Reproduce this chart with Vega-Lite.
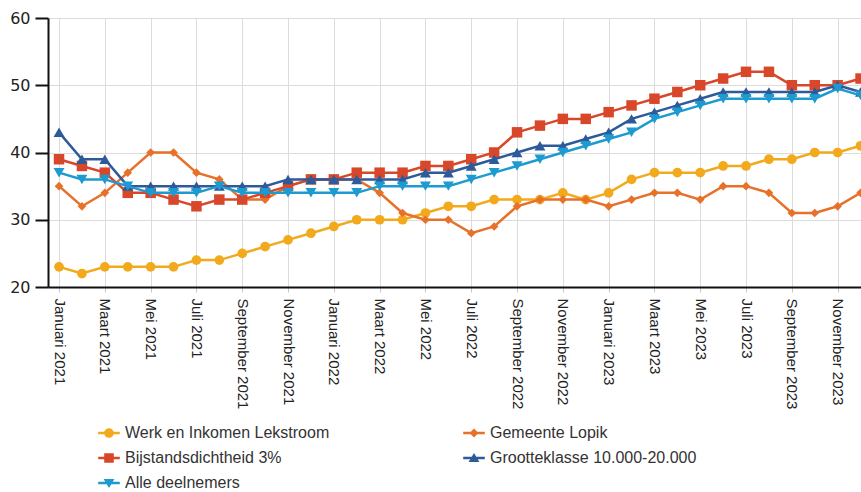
{
  "$schema": "https://vega.github.io/schema/vega-lite/v6.json",
  "autosize": {"type": "none"},
  "width": 813,
  "height": 269,
  "padding": {"left": 48, "top": 18, "right": 0, "bottom": 205},
  "background": "white",
  "config": {"view": {"stroke": null}, "font": "Liberation Sans"},
  "data": {"values": [
    {"reeks": "Werk en Inkomen Lekstroom", "maand": "Januari 2021", "waarde": 23},
    {"reeks": "Werk en Inkomen Lekstroom", "maand": "Februari 2021", "waarde": 22},
    {"reeks": "Werk en Inkomen Lekstroom", "maand": "Maart 2021", "waarde": 23},
    {"reeks": "Werk en Inkomen Lekstroom", "maand": "April 2021", "waarde": 23},
    {"reeks": "Werk en Inkomen Lekstroom", "maand": "Mei 2021", "waarde": 23},
    {"reeks": "Werk en Inkomen Lekstroom", "maand": "Juni 2021", "waarde": 23},
    {"reeks": "Werk en Inkomen Lekstroom", "maand": "Juli 2021", "waarde": 24},
    {"reeks": "Werk en Inkomen Lekstroom", "maand": "Augustus 2021", "waarde": 24},
    {"reeks": "Werk en Inkomen Lekstroom", "maand": "September 2021", "waarde": 25},
    {"reeks": "Werk en Inkomen Lekstroom", "maand": "Oktober 2021", "waarde": 26},
    {"reeks": "Werk en Inkomen Lekstroom", "maand": "November 2021", "waarde": 27},
    {"reeks": "Werk en Inkomen Lekstroom", "maand": "December 2021", "waarde": 28},
    {"reeks": "Werk en Inkomen Lekstroom", "maand": "Januari 2022", "waarde": 29},
    {"reeks": "Werk en Inkomen Lekstroom", "maand": "Februari 2022", "waarde": 30},
    {"reeks": "Werk en Inkomen Lekstroom", "maand": "Maart 2022", "waarde": 30},
    {"reeks": "Werk en Inkomen Lekstroom", "maand": "April 2022", "waarde": 30},
    {"reeks": "Werk en Inkomen Lekstroom", "maand": "Mei 2022", "waarde": 31},
    {"reeks": "Werk en Inkomen Lekstroom", "maand": "Juni 2022", "waarde": 32},
    {"reeks": "Werk en Inkomen Lekstroom", "maand": "Juli 2022", "waarde": 32},
    {"reeks": "Werk en Inkomen Lekstroom", "maand": "Augustus 2022", "waarde": 33},
    {"reeks": "Werk en Inkomen Lekstroom", "maand": "September 2022", "waarde": 33},
    {"reeks": "Werk en Inkomen Lekstroom", "maand": "Oktober 2022", "waarde": 33},
    {"reeks": "Werk en Inkomen Lekstroom", "maand": "November 2022", "waarde": 34},
    {"reeks": "Werk en Inkomen Lekstroom", "maand": "December 2022", "waarde": 33},
    {"reeks": "Werk en Inkomen Lekstroom", "maand": "Januari 2023", "waarde": 34},
    {"reeks": "Werk en Inkomen Lekstroom", "maand": "Februari 2023", "waarde": 36},
    {"reeks": "Werk en Inkomen Lekstroom", "maand": "Maart 2023", "waarde": 37},
    {"reeks": "Werk en Inkomen Lekstroom", "maand": "April 2023", "waarde": 37},
    {"reeks": "Werk en Inkomen Lekstroom", "maand": "Mei 2023", "waarde": 37},
    {"reeks": "Werk en Inkomen Lekstroom", "maand": "Juni 2023", "waarde": 38},
    {"reeks": "Werk en Inkomen Lekstroom", "maand": "Juli 2023", "waarde": 38},
    {"reeks": "Werk en Inkomen Lekstroom", "maand": "Augustus 2023", "waarde": 39},
    {"reeks": "Werk en Inkomen Lekstroom", "maand": "September 2023", "waarde": 39},
    {"reeks": "Werk en Inkomen Lekstroom", "maand": "Oktober 2023", "waarde": 40},
    {"reeks": "Werk en Inkomen Lekstroom", "maand": "November 2023", "waarde": 40},
    {"reeks": "Werk en Inkomen Lekstroom", "maand": "December 2023", "waarde": 41},

    {"reeks": "Gemeente Lopik", "maand": "Januari 2021", "waarde": 35},
    {"reeks": "Gemeente Lopik", "maand": "Februari 2021", "waarde": 32},
    {"reeks": "Gemeente Lopik", "maand": "Maart 2021", "waarde": 34},
    {"reeks": "Gemeente Lopik", "maand": "April 2021", "waarde": 37},
    {"reeks": "Gemeente Lopik", "maand": "Mei 2021", "waarde": 40},
    {"reeks": "Gemeente Lopik", "maand": "Juni 2021", "waarde": 40},
    {"reeks": "Gemeente Lopik", "maand": "Juli 2021", "waarde": 37},
    {"reeks": "Gemeente Lopik", "maand": "Augustus 2021", "waarde": 36},
    {"reeks": "Gemeente Lopik", "maand": "September 2021", "waarde": 33},
    {"reeks": "Gemeente Lopik", "maand": "Oktober 2021", "waarde": 33},
    {"reeks": "Gemeente Lopik", "maand": "November 2021", "waarde": 35},
    {"reeks": "Gemeente Lopik", "maand": "December 2021", "waarde": 36},
    {"reeks": "Gemeente Lopik", "maand": "Januari 2022", "waarde": 36},
    {"reeks": "Gemeente Lopik", "maand": "Februari 2022", "waarde": 36},
    {"reeks": "Gemeente Lopik", "maand": "Maart 2022", "waarde": 34},
    {"reeks": "Gemeente Lopik", "maand": "April 2022", "waarde": 31},
    {"reeks": "Gemeente Lopik", "maand": "Mei 2022", "waarde": 30},
    {"reeks": "Gemeente Lopik", "maand": "Juni 2022", "waarde": 30},
    {"reeks": "Gemeente Lopik", "maand": "Juli 2022", "waarde": 28},
    {"reeks": "Gemeente Lopik", "maand": "Augustus 2022", "waarde": 29},
    {"reeks": "Gemeente Lopik", "maand": "September 2022", "waarde": 32},
    {"reeks": "Gemeente Lopik", "maand": "Oktober 2022", "waarde": 33},
    {"reeks": "Gemeente Lopik", "maand": "November 2022", "waarde": 33},
    {"reeks": "Gemeente Lopik", "maand": "December 2022", "waarde": 33},
    {"reeks": "Gemeente Lopik", "maand": "Januari 2023", "waarde": 32},
    {"reeks": "Gemeente Lopik", "maand": "Februari 2023", "waarde": 33},
    {"reeks": "Gemeente Lopik", "maand": "Maart 2023", "waarde": 34},
    {"reeks": "Gemeente Lopik", "maand": "April 2023", "waarde": 34},
    {"reeks": "Gemeente Lopik", "maand": "Mei 2023", "waarde": 33},
    {"reeks": "Gemeente Lopik", "maand": "Juni 2023", "waarde": 35},
    {"reeks": "Gemeente Lopik", "maand": "Juli 2023", "waarde": 35},
    {"reeks": "Gemeente Lopik", "maand": "Augustus 2023", "waarde": 34},
    {"reeks": "Gemeente Lopik", "maand": "September 2023", "waarde": 31},
    {"reeks": "Gemeente Lopik", "maand": "Oktober 2023", "waarde": 31},
    {"reeks": "Gemeente Lopik", "maand": "November 2023", "waarde": 32},
    {"reeks": "Gemeente Lopik", "maand": "December 2023", "waarde": 34},

    {"reeks": "Bijstandsdichtheid 3%", "maand": "Januari 2021", "waarde": 39},
    {"reeks": "Bijstandsdichtheid 3%", "maand": "Februari 2021", "waarde": 38},
    {"reeks": "Bijstandsdichtheid 3%", "maand": "Maart 2021", "waarde": 37},
    {"reeks": "Bijstandsdichtheid 3%", "maand": "April 2021", "waarde": 34},
    {"reeks": "Bijstandsdichtheid 3%", "maand": "Mei 2021", "waarde": 34},
    {"reeks": "Bijstandsdichtheid 3%", "maand": "Juni 2021", "waarde": 33},
    {"reeks": "Bijstandsdichtheid 3%", "maand": "Juli 2021", "waarde": 32},
    {"reeks": "Bijstandsdichtheid 3%", "maand": "Augustus 2021", "waarde": 33},
    {"reeks": "Bijstandsdichtheid 3%", "maand": "September 2021", "waarde": 33},
    {"reeks": "Bijstandsdichtheid 3%", "maand": "Oktober 2021", "waarde": 34},
    {"reeks": "Bijstandsdichtheid 3%", "maand": "November 2021", "waarde": 35},
    {"reeks": "Bijstandsdichtheid 3%", "maand": "December 2021", "waarde": 36},
    {"reeks": "Bijstandsdichtheid 3%", "maand": "Januari 2022", "waarde": 36},
    {"reeks": "Bijstandsdichtheid 3%", "maand": "Februari 2022", "waarde": 37},
    {"reeks": "Bijstandsdichtheid 3%", "maand": "Maart 2022", "waarde": 37},
    {"reeks": "Bijstandsdichtheid 3%", "maand": "April 2022", "waarde": 37},
    {"reeks": "Bijstandsdichtheid 3%", "maand": "Mei 2022", "waarde": 38},
    {"reeks": "Bijstandsdichtheid 3%", "maand": "Juni 2022", "waarde": 38},
    {"reeks": "Bijstandsdichtheid 3%", "maand": "Juli 2022", "waarde": 39},
    {"reeks": "Bijstandsdichtheid 3%", "maand": "Augustus 2022", "waarde": 40},
    {"reeks": "Bijstandsdichtheid 3%", "maand": "September 2022", "waarde": 43},
    {"reeks": "Bijstandsdichtheid 3%", "maand": "Oktober 2022", "waarde": 44},
    {"reeks": "Bijstandsdichtheid 3%", "maand": "November 2022", "waarde": 45},
    {"reeks": "Bijstandsdichtheid 3%", "maand": "December 2022", "waarde": 45},
    {"reeks": "Bijstandsdichtheid 3%", "maand": "Januari 2023", "waarde": 46},
    {"reeks": "Bijstandsdichtheid 3%", "maand": "Februari 2023", "waarde": 47},
    {"reeks": "Bijstandsdichtheid 3%", "maand": "Maart 2023", "waarde": 48},
    {"reeks": "Bijstandsdichtheid 3%", "maand": "April 2023", "waarde": 49},
    {"reeks": "Bijstandsdichtheid 3%", "maand": "Mei 2023", "waarde": 50},
    {"reeks": "Bijstandsdichtheid 3%", "maand": "Juni 2023", "waarde": 51},
    {"reeks": "Bijstandsdichtheid 3%", "maand": "Juli 2023", "waarde": 52},
    {"reeks": "Bijstandsdichtheid 3%", "maand": "Augustus 2023", "waarde": 52},
    {"reeks": "Bijstandsdichtheid 3%", "maand": "September 2023", "waarde": 50},
    {"reeks": "Bijstandsdichtheid 3%", "maand": "Oktober 2023", "waarde": 50},
    {"reeks": "Bijstandsdichtheid 3%", "maand": "November 2023", "waarde": 50},
    {"reeks": "Bijstandsdichtheid 3%", "maand": "December 2023", "waarde": 51},

    {"reeks": "Grootteklasse 10.000-20.000", "maand": "Januari 2021", "waarde": 43},
    {"reeks": "Grootteklasse 10.000-20.000", "maand": "Februari 2021", "waarde": 39},
    {"reeks": "Grootteklasse 10.000-20.000", "maand": "Maart 2021", "waarde": 39},
    {"reeks": "Grootteklasse 10.000-20.000", "maand": "April 2021", "waarde": 35},
    {"reeks": "Grootteklasse 10.000-20.000", "maand": "Mei 2021", "waarde": 35},
    {"reeks": "Grootteklasse 10.000-20.000", "maand": "Juni 2021", "waarde": 35},
    {"reeks": "Grootteklasse 10.000-20.000", "maand": "Juli 2021", "waarde": 35},
    {"reeks": "Grootteklasse 10.000-20.000", "maand": "Augustus 2021", "waarde": 35},
    {"reeks": "Grootteklasse 10.000-20.000", "maand": "September 2021", "waarde": 35},
    {"reeks": "Grootteklasse 10.000-20.000", "maand": "Oktober 2021", "waarde": 35},
    {"reeks": "Grootteklasse 10.000-20.000", "maand": "November 2021", "waarde": 36},
    {"reeks": "Grootteklasse 10.000-20.000", "maand": "December 2021", "waarde": 36},
    {"reeks": "Grootteklasse 10.000-20.000", "maand": "Januari 2022", "waarde": 36},
    {"reeks": "Grootteklasse 10.000-20.000", "maand": "Februari 2022", "waarde": 36},
    {"reeks": "Grootteklasse 10.000-20.000", "maand": "Maart 2022", "waarde": 36},
    {"reeks": "Grootteklasse 10.000-20.000", "maand": "April 2022", "waarde": 36},
    {"reeks": "Grootteklasse 10.000-20.000", "maand": "Mei 2022", "waarde": 37},
    {"reeks": "Grootteklasse 10.000-20.000", "maand": "Juni 2022", "waarde": 37},
    {"reeks": "Grootteklasse 10.000-20.000", "maand": "Juli 2022", "waarde": 38},
    {"reeks": "Grootteklasse 10.000-20.000", "maand": "Augustus 2022", "waarde": 39},
    {"reeks": "Grootteklasse 10.000-20.000", "maand": "September 2022", "waarde": 40},
    {"reeks": "Grootteklasse 10.000-20.000", "maand": "Oktober 2022", "waarde": 41},
    {"reeks": "Grootteklasse 10.000-20.000", "maand": "November 2022", "waarde": 41},
    {"reeks": "Grootteklasse 10.000-20.000", "maand": "December 2022", "waarde": 42},
    {"reeks": "Grootteklasse 10.000-20.000", "maand": "Januari 2023", "waarde": 43},
    {"reeks": "Grootteklasse 10.000-20.000", "maand": "Februari 2023", "waarde": 45},
    {"reeks": "Grootteklasse 10.000-20.000", "maand": "Maart 2023", "waarde": 46},
    {"reeks": "Grootteklasse 10.000-20.000", "maand": "April 2023", "waarde": 47},
    {"reeks": "Grootteklasse 10.000-20.000", "maand": "Mei 2023", "waarde": 48},
    {"reeks": "Grootteklasse 10.000-20.000", "maand": "Juni 2023", "waarde": 49},
    {"reeks": "Grootteklasse 10.000-20.000", "maand": "Juli 2023", "waarde": 49},
    {"reeks": "Grootteklasse 10.000-20.000", "maand": "Augustus 2023", "waarde": 49},
    {"reeks": "Grootteklasse 10.000-20.000", "maand": "September 2023", "waarde": 49},
    {"reeks": "Grootteklasse 10.000-20.000", "maand": "Oktober 2023", "waarde": 49},
    {"reeks": "Grootteklasse 10.000-20.000", "maand": "November 2023", "waarde": 50},
    {"reeks": "Grootteklasse 10.000-20.000", "maand": "December 2023", "waarde": 49},

    {"reeks": "Alle deelnemers", "maand": "Januari 2021", "waarde": 37},
    {"reeks": "Alle deelnemers", "maand": "Februari 2021", "waarde": 36},
    {"reeks": "Alle deelnemers", "maand": "Maart 2021", "waarde": 36},
    {"reeks": "Alle deelnemers", "maand": "April 2021", "waarde": 35},
    {"reeks": "Alle deelnemers", "maand": "Mei 2021", "waarde": 34},
    {"reeks": "Alle deelnemers", "maand": "Juni 2021", "waarde": 34},
    {"reeks": "Alle deelnemers", "maand": "Juli 2021", "waarde": 34},
    {"reeks": "Alle deelnemers", "maand": "Augustus 2021", "waarde": 35},
    {"reeks": "Alle deelnemers", "maand": "September 2021", "waarde": 34},
    {"reeks": "Alle deelnemers", "maand": "Oktober 2021", "waarde": 34},
    {"reeks": "Alle deelnemers", "maand": "November 2021", "waarde": 34},
    {"reeks": "Alle deelnemers", "maand": "December 2021", "waarde": 34},
    {"reeks": "Alle deelnemers", "maand": "Januari 2022", "waarde": 34},
    {"reeks": "Alle deelnemers", "maand": "Februari 2022", "waarde": 34},
    {"reeks": "Alle deelnemers", "maand": "Maart 2022", "waarde": 35},
    {"reeks": "Alle deelnemers", "maand": "April 2022", "waarde": 35},
    {"reeks": "Alle deelnemers", "maand": "Mei 2022", "waarde": 35},
    {"reeks": "Alle deelnemers", "maand": "Juni 2022", "waarde": 35},
    {"reeks": "Alle deelnemers", "maand": "Juli 2022", "waarde": 36},
    {"reeks": "Alle deelnemers", "maand": "Augustus 2022", "waarde": 37},
    {"reeks": "Alle deelnemers", "maand": "September 2022", "waarde": 38},
    {"reeks": "Alle deelnemers", "maand": "Oktober 2022", "waarde": 39},
    {"reeks": "Alle deelnemers", "maand": "November 2022", "waarde": 40},
    {"reeks": "Alle deelnemers", "maand": "December 2022", "waarde": 41},
    {"reeks": "Alle deelnemers", "maand": "Januari 2023", "waarde": 42},
    {"reeks": "Alle deelnemers", "maand": "Februari 2023", "waarde": 43},
    {"reeks": "Alle deelnemers", "maand": "Maart 2023", "waarde": 45},
    {"reeks": "Alle deelnemers", "maand": "April 2023", "waarde": 46},
    {"reeks": "Alle deelnemers", "maand": "Mei 2023", "waarde": 47},
    {"reeks": "Alle deelnemers", "maand": "Juni 2023", "waarde": 48},
    {"reeks": "Alle deelnemers", "maand": "Juli 2023", "waarde": 48},
    {"reeks": "Alle deelnemers", "maand": "Augustus 2023", "waarde": 48},
    {"reeks": "Alle deelnemers", "maand": "September 2023", "waarde": 48},
    {"reeks": "Alle deelnemers", "maand": "Oktober 2023", "waarde": 48},
    {"reeks": "Alle deelnemers", "maand": "November 2023", "waarde": 49.5},
    {"reeks": "Alle deelnemers", "maand": "December 2023", "waarde": 48.5}
  ]},
  "encoding": {
    "x": {
      "field": "maand", "type": "ordinal", "sort": null,
      "scale": {"type": "point", "padding": 0.251, "align": 0.96},
      "axis": {
        "title": null,
        "values": ["Januari 2021", "Maart 2021", "Mei 2021", "Juli 2021", "September 2021", "November 2021", "Januari 2022", "Maart 2022", "Mei 2022", "Juli 2022", "September 2022", "November 2022", "Januari 2023", "Maart 2023", "Mei 2023", "Juli 2023", "September 2023", "November 2023"],
        "labelAngle": 90, "labelFont": "Liberation Sans", "labelFontSize": 15, "labelColor": "#222",
        "labelPadding": 6, "labelOverlap": false, "labelLimit": 200,
        "tickSize": 5, "tickColor": "#c8c8c8", "tickWidth": 1,
        "domainColor": "#111", "domainWidth": 2,
        "grid": true, "gridColor": "#dcdcdc", "gridWidth": 1
      }
    },
    "y": {
      "field": "waarde", "type": "quantitative",
      "scale": {"domain": [20, 60], "nice": false, "zero": false},
      "axis": {
        "title": null, "values": [20, 30, 40, 50, 60],
        "labelFont": "DejaVu Sans", "labelFontSize": 16, "labelColor": "#222", "labelPadding": 5,
        "tickSize": 13, "tickWidth": 2, "tickColor": "#111",
        "domainColor": "#111", "domainWidth": 2,
        "grid": true, "gridColor": "#dcdcdc", "gridWidth": 1
      }
    },
    "color": {
      "field": "reeks", "type": "nominal", "sort": null,
      "scale": {
        "domain": ["Werk en Inkomen Lekstroom", "Gemeente Lopik", "Bijstandsdichtheid 3%", "Grootteklasse 10.000-20.000", "Alle deelnemers"],
        "range": ["#F2AA1C", "#E8712A", "#D9472B", "#2D5A99", "#1D9ACF"]
      },
      "legend": {
        "title": null, "orient": "none", "legendX": 53, "legendY": 407,
        "direction": "horizontal", "columns": 2, "columnPadding": 133, "rowPadding": 9,
        "padding": 0, "symbolSize": 144, "labelOffset": 8, "labelFontSize": 16,
        "labelFont": "Liberation Sans", "labelColor": "#333", "labelLimit": 300,
        "symbolOpacity": 1, "symbolStrokeWidth": 0,
        "encode": {
          "symbols": {
            "update": {
              "shape": {"signal": "['M-1.8,-0.2H1.8V0.2H-1.8Z M-0.8,0A0.8,0.8 0 1,1 0.8,0A0.8,0.8 0 1,1 -0.8,0Z', 'M-1.8,-0.2H1.8V0.2H-1.8Z M0,-0.75L0.75,0L0,0.75L-0.75,0Z', 'M-1.8,-0.2H1.8V0.2H-1.8Z M-0.8,-0.8H0.8V0.8H-0.8Z', 'M-1.8,-0.2H1.8V0.2H-1.8Z M0,-0.85L0.9,0.65L-0.9,0.65Z', 'M-1.8,-0.2H1.8V0.2H-1.8Z M0,0.85L-0.9,-0.65L0.9,-0.65Z'][indexof(domain('color'), datum.value)]"},
              "fill": {"signal": "scale('color', datum.value)"},
              "stroke": {"value": "transparent"},
              "opacity": {"value": 1}
            }
          }
        }
      }
    }
  },
  "layer": [
    {"transform": [{"filter": {"field": "reeks", "equal": "Werk en Inkomen Lekstroom"}}],
     "mark": {"type": "line", "strokeWidth": 2.5}, "encoding": {}},
    {"transform": [{"filter": {"field": "reeks", "equal": "Werk en Inkomen Lekstroom"}}],
     "mark": {"type": "point", "filled": true, "opacity": 1, "shape": "circle", "size": 95}},
    {"transform": [{"filter": {"field": "reeks", "equal": "Gemeente Lopik"}}],
     "mark": {"type": "line", "strokeWidth": 2.5}, "encoding": {}},
    {"transform": [{"filter": {"field": "reeks", "equal": "Gemeente Lopik"}}],
     "mark": {"type": "point", "filled": true, "opacity": 1, "shape": "diamond", "size": 75}},
    {"transform": [{"filter": {"field": "reeks", "equal": "Bijstandsdichtheid 3%"}}],
     "mark": {"type": "line", "strokeWidth": 2.5}, "encoding": {}},
    {"transform": [{"filter": {"field": "reeks", "equal": "Bijstandsdichtheid 3%"}}],
     "mark": {"type": "point", "filled": true, "opacity": 1, "shape": "square", "size": 110}},
    {"transform": [{"filter": {"field": "reeks", "equal": "Grootteklasse 10.000-20.000"}}],
     "mark": {"type": "line", "strokeWidth": 2.5}, "encoding": {}},
    {"transform": [{"filter": {"field": "reeks", "equal": "Grootteklasse 10.000-20.000"}}],
     "mark": {"type": "point", "filled": true, "opacity": 1, "shape": "triangle-up", "size": 120}},
    {"transform": [{"filter": {"field": "reeks", "equal": "Alle deelnemers"}}],
     "mark": {"type": "line", "strokeWidth": 2.5}, "encoding": {}},
    {"transform": [{"filter": {"field": "reeks", "equal": "Alle deelnemers"}}],
     "mark": {"type": "point", "filled": true, "opacity": 1, "shape": "triangle-down", "size": 120}}
  ]
}
